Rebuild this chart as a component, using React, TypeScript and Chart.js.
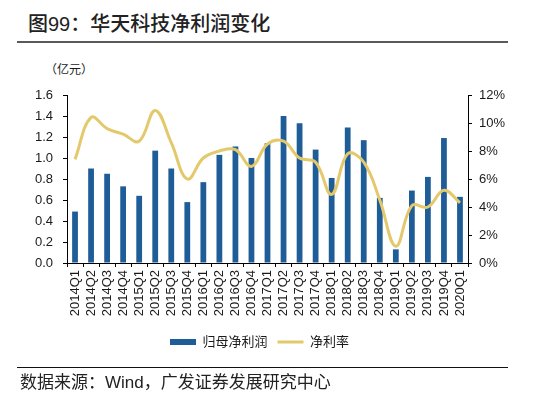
import React, { useEffect, useRef } from "react";
import { Chart, registerables } from "chart.js";

Chart.register(...registerables);

const categories = [
  "2014Q1", "2014Q2", "2014Q3", "2014Q4",
  "2015Q1", "2015Q2", "2015Q3", "2015Q4",
  "2016Q1", "2016Q2", "2016Q3", "2016Q4",
  "2017Q1", "2017Q2", "2017Q3", "2017Q4",
  "2018Q1", "2018Q2", "2018Q3", "2018Q4",
  "2019Q1", "2019Q2", "2019Q3", "2019Q4",
  "2020Q1",
];

// 归母净利润 (亿元)
const netProfit = [
  0.49, 0.90, 0.85, 0.73,
  0.64, 1.07, 0.90, 0.58,
  0.77, 1.03, 1.11, 1.00,
  1.14, 1.40, 1.33, 1.08,
  0.81, 1.29, 1.17, 0.62,
  0.13, 0.69, 0.82, 1.19,
  0.63,
];

// 净利率 (%)
const netMargin = [
  7.4, 10.4, 9.6, 9.2,
  8.7, 10.9, 8.6, 6.0,
  7.5, 8.0, 8.1, 6.9,
  8.5, 8.7, 7.5, 7.2,
  4.9, 7.8, 7.2, 4.5,
  1.2, 4.1, 4.0, 5.2,
  4.3,
];

const seriesNames = ["归母净利润", "净利率"];
const titleText = ["图99：", "华天科技净利润变化"];
const unitText = "（亿元）";
const sourceText = "数据来源：Wind，广发证券发展研究中心";

const BAR_COLOR = "#1F5D99";
const LINE_COLOR = "#E4C96C";
const TEXT_COLOR = "#1a1a1a";
const FONT = "'Liberation Sans', Arial, 'Noto Sans CJK SC', sans-serif";
const CJK_FONT = "'Liberation Sans', 'Noto Sans CJK SC', sans-serif";

export default function App() {
  const canvasRef = useRef<HTMLCanvasElement | null>(null);

  useEffect(() => {
    const canvas = canvasRef.current;
    if (!canvas) return;
    Chart.defaults.font.family = FONT;
    const chart = new Chart(canvas, {
      type: "bar",
      data: {
        labels: categories,
        datasets: [
          {
            type: "bar",
            label: seriesNames[0],
            data: netProfit,
            backgroundColor: BAR_COLOR,
            borderWidth: 0,
            barPercentage: 0.36,
            categoryPercentage: 1,
            yAxisID: "y",
            order: 1,
          },
          {
            type: "line",
            label: seriesNames[1],
            data: netMargin,
            borderColor: LINE_COLOR,
            backgroundColor: LINE_COLOR,
            borderWidth: 3,
            pointRadius: 0,
            tension: 0.4,
            fill: false,
            yAxisID: "y1",
            order: 0,
          } as any,
        ],
      },
      options: {
        responsive: false,
        animation: false,
        devicePixelRatio: 1,
        layout: { padding: { top: 95, left: 0, right: 29, bottom: 39.5 } },
        plugins: {
          tooltip: { enabled: false },
          legend: {
            position: "bottom",
            labels: {
              usePointStyle: true,
              pointStyleWidth: 26,
              boxWidth: 26,
              boxHeight: 6,
              padding: 10,
              color: TEXT_COLOR,
              font: { size: 13, family: CJK_FONT },
              generateLabels: () => [
                {
                  text: seriesNames[0],
                  fillStyle: BAR_COLOR,
                  strokeStyle: BAR_COLOR,
                  lineWidth: 0,
                  pointStyle: "rect",
                  fontColor: TEXT_COLOR,
                  datasetIndex: 0,
                  hidden: false,
                },
                {
                  text: seriesNames[1],
                  fillStyle: LINE_COLOR,
                  strokeStyle: LINE_COLOR,
                  lineWidth: 3,
                  pointStyle: "line",
                  fontColor: TEXT_COLOR,
                  datasetIndex: 1,
                  hidden: false,
                },
              ] as any,
            },
          },
        },
        scales: {
          x: {
            offset: true,
            grid: {
              offset: true,
              drawOnChartArea: false,
              drawTicks: true,
              tickLength: 4,
              color: "#000",
            },
            border: { display: true, color: "#000", width: 1 },
            ticks: {
              autoSkip: false,
              maxRotation: 90,
              minRotation: 90,
              padding: 3,
              color: TEXT_COLOR,
              font: { size: 13 },
            },
            afterFit: (scale: any) => {
              scale.height = 62.5;
            },
          },
          y: {
            position: "left",
            min: 0,
            max: 1.6,
            grid: {
              drawOnChartArea: false,
              drawTicks: true,
              tickLength: 4,
              color: "#000",
            },
            border: { display: true, color: "#000", width: 1 },
            ticks: {
              stepSize: 0.2,
              padding: 10,
              color: TEXT_COLOR,
              font: { size: 13 },
              callback: (v: any) => Number(v).toFixed(1),
            },
            afterFit: (scale: any) => {
              scale.width = 67;
            },
          },
          y1: {
            position: "right",
            min: 0,
            max: 12,
            grid: {
              drawOnChartArea: false,
              drawTicks: true,
              tickLength: 4,
              color: "#000",
            },
            border: { display: true, color: "#000", width: 1 },
            ticks: {
              stepSize: 2,
              padding: 7,
              color: TEXT_COLOR,
              font: { size: 13 },
              callback: (v: any) => `${v}%`,
            },
            afterFit: (scale: any) => {
              scale.width = 51;
            },
          },
        },
      },
    });
    return () => chart.destroy();
  }, []);

  return (
    <div
      style={{
        position: "absolute",
        left: 0,
        top: 0,
        width: 548,
        height: 398,
        background: "#fff",
        overflow: "hidden",
      }}
    >
      <div
        style={{
          position: "absolute",
          left: 28,
          top: 14,
          fontSize: 20,
          lineHeight: "20px",
          fontFamily: CJK_FONT,
          fontWeight: 500,
          color: "#222",
          whiteSpace: "nowrap",
        }}
      >
        {titleText[0]}
        {titleText[1]}
      </div>
      <div
        style={{
          position: "absolute",
          left: 17,
          top: 41,
          width: 491,
          height: 2,
          background: "#5a5a5a",
        }}
      />
      <div
        style={{
          position: "absolute",
          left: 45,
          top: 64,
          fontSize: 12,
          lineHeight: "12px",
          fontFamily: CJK_FONT,
          color: TEXT_COLOR,
          whiteSpace: "nowrap",
        }}
      >
        {unitText}
      </div>
      <canvas
        ref={canvasRef}
        width={548}
        height={398}
        style={{ position: "absolute", left: 0, top: 0, width: 548, height: 398 }}
      />
      <div
        style={{
          position: "absolute",
          left: 17,
          top: 367,
          width: 491,
          height: 1,
          background: "#111",
        }}
      />
      <div
        style={{
          position: "absolute",
          left: 20,
          top: 374,
          fontSize: 17,
          lineHeight: "18px",
          fontFamily: CJK_FONT,
          color: "#222",
          whiteSpace: "nowrap",
        }}
      >
        {sourceText}
      </div>
    </div>
  );
}
